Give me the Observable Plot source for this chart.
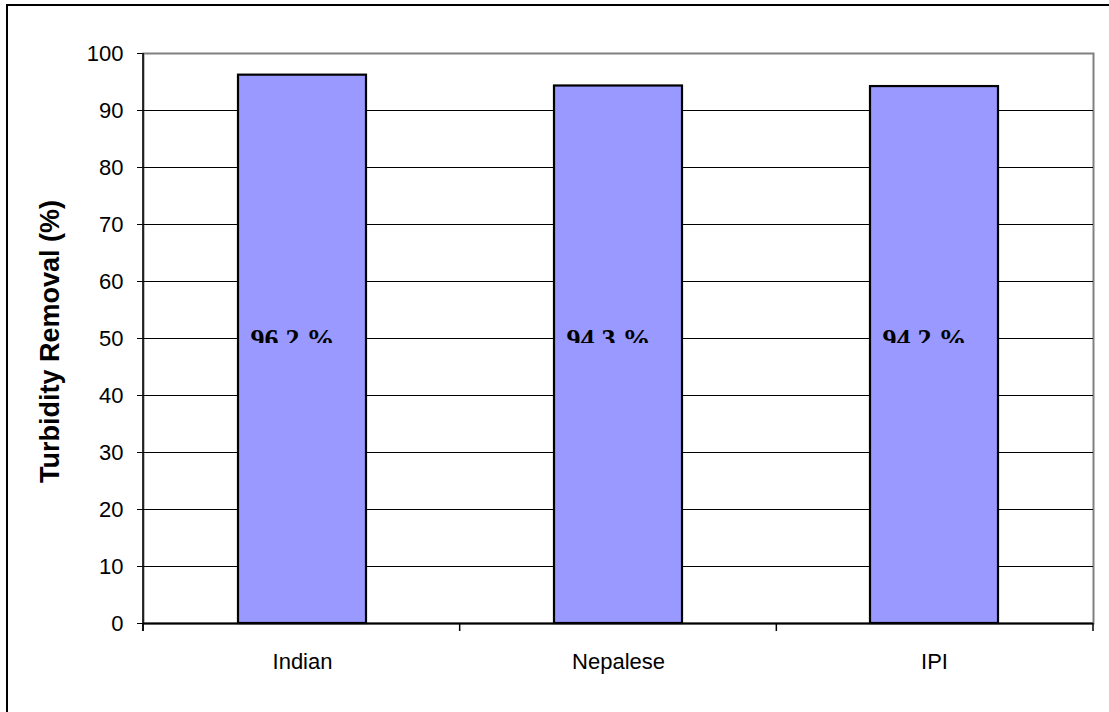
<!DOCTYPE html>
<html>
<head>
<meta charset="utf-8">
<script src="https://cdn.jsdelivr.net/npm/d3@7"></script>
<script src="https://cdn.jsdelivr.net/npm/@observablehq/plot@0.6"></script>
<style>
  html, body { margin: 0; padding: 0; background: #fff; }
  #wrap { position: relative; width: 1109px; height: 712px; overflow: hidden; }
  #edge { position: absolute; left: 6px; top: 4px; right: -10px; bottom: -10px;
          border-left: 2px solid #000; border-top: 2px solid #000; pointer-events: none; }
</style>
</head>
<body>
<div id="wrap"><div id="edge"></div></div>
<script>
// Turbidity removal by filter type
const categories = ["Indian", "Nepalese", "IPI"];
const removal = [96.2, 94.3, 94.2];
const yTicks = [0, 10, 20, 30, 40, 50, 60, 70, 80, 90, 100];
const gridLines = [10, 20, 30, 40, 50, 60, 70, 80, 90];
const yLabel = "Turbidity Removal (%)";

const data = categories.map((name, i) => ({name, value: removal[i]}));

// Left axis line and the category-boundary ticks under the x axis
function axisFrame(index, scales, values, dimensions) {
  const {width, height, marginLeft, marginRight, marginTop, marginBottom} = dimensions;
  const x0 = marginLeft, x1 = width - marginRight, yb = height - marginBottom;
  const n = categories.length;
  const g = d3.create("svg:g").attr("stroke", "#000");
  for (let i = 0; i <= n; i++) {
    const x = x0 + i * (x1 - x0) / n;
    g.append("line").attr("x1", x).attr("x2", x).attr("y1", yb).attr("y2", yb + 8).attr("stroke-width", 1.5);
  }
  g.append("line").attr("x1", x0).attr("x2", x0).attr("y1", marginTop).attr("y2", yb + 8).attr("stroke-width", 1.5);
  return g.node();
}

const chart = Plot.plot({
  width: 1109,
  height: 712,
  marginLeft: 143,
  marginRight: 16,
  marginTop: 53,
  marginBottom: 89,
  style: {
    fontFamily: "'Liberation Sans', Arial, sans-serif",
    fontSize: "22px",
    color: "#000",
    background: "transparent",
    overflow: "visible"
  },
  x: {domain: categories, paddingInner: 0.596, paddingOuter: 0.298, tickSize: 0, tickPadding: 30, label: null},
  y: {domain: [0, 100], ticks: yTicks, tickSize: 6, tickPadding: 14, label: null, tickFormat: d => String(d)},
  marks: [
    Plot.frame({stroke: "#808080", strokeWidth: 2}),
    Plot.ruleY(gridLines, {stroke: "#000", strokeWidth: 1}),
    Plot.barY(data, {x: "name", y: "value", fill: "#9999ff", stroke: "#000", strokeWidth: 2.2}),
    Plot.ruleY([0], {stroke: "#000", strokeWidth: 2}),
    axisFrame,
    Plot.text(data, {
      x: "name",
      frameAnchor: "middle",
      text: d => d.value.toFixed(1) + " %",
      fontFamily: "'Liberation Serif', 'Times New Roman', serif",
      fontWeight: "bold",
      fontSize: 28,
      dx: -10,
      dy: 1,
      fill: "#000"
    }),
    Plot.text([yLabel], {
      frameAnchor: "left",
      textAnchor: "middle",
      rotate: -90,
      dx: -93,
      dy: 3,
      fontWeight: "bold",
      fontSize: 27,
      fill: "#000"
    })
  ]
});

// Value labels are cut off just below the 50 gridline
const yRange = chart.scale("y").range;
const yClip = (yRange[0] + yRange[1]) / 2 + 5;
const svg = d3.select(chart);
svg.append("defs").append("clipPath").attr("id", "label-clip")
  .attr("clipPathUnits", "userSpaceOnUse")
  .append("rect").attr("x", 0).attr("y", 0).attr("width", 1109).attr("height", yClip);
svg.selectAll("text")
  .filter(function () { return /%$/.test(this.textContent); })
  .each(function () {
    const group = this.parentNode;
    if (group.parentNode.getAttribute("clip-path")) return;
    const holder = document.createElementNS("http://www.w3.org/2000/svg", "g");
    holder.setAttribute("clip-path", "url(#label-clip)");
    group.parentNode.insertBefore(holder, group);
    holder.appendChild(group);
  });

document.getElementById("wrap").prepend(chart);
chart.style.position = "absolute";
chart.style.left = "0";
chart.style.top = "0";
</script>
</body>
</html>
